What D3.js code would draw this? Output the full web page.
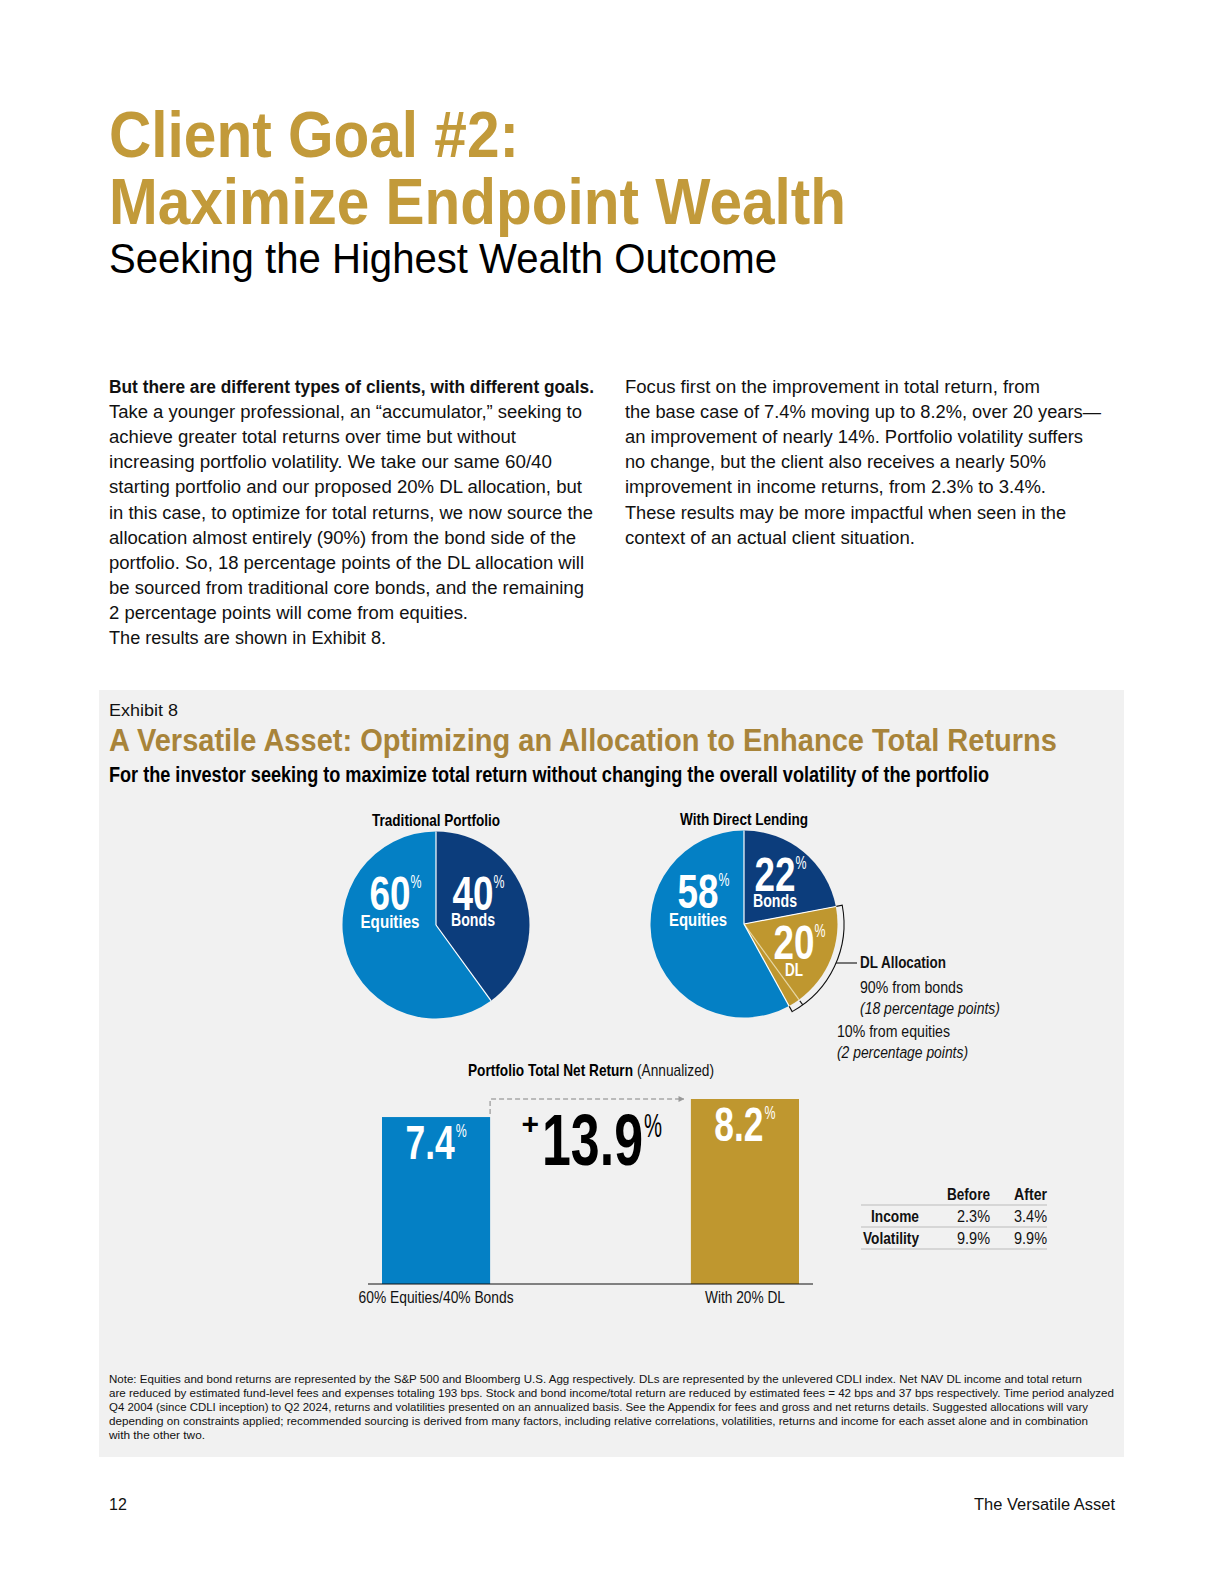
<!DOCTYPE html>
<html>
<head>
<meta charset="utf-8">
<script src="https://cdn.jsdelivr.net/npm/d3@7"></script>
<style>
  body { margin: 0; background: #fff; }
</style>
</head>
<body>
<div id="page"></div>
<script>
// ---- data ----
var tradNames = ["Bonds", "Equities"];
var tradValues = [40, 60];

// DL slice is split into the part sourced from bonds (18) and from equities (2)
var dlNames = ["Bonds", "DL from bonds", "DL from equities", "Equities"];
var dlValues = [22, 18, 2, 58];

var barCategories = ["60% Equities/40% Bonds", "With 20% DL"];
var barValues = [7.4, 8.2];
var improvement = 13.9;

var tableCols = ["Before", "After"];
var tableRows = ["Income", "Volatility"];
var incomeValues = [2.3, 3.4];
var volatilityValues = [9.9, 9.9];

// ---- styles ----
var NAVY = "#0c3d7c", BLUE = "#0480c5", GOLD = "#bf972f";
var TITLE_GOLD = "#c29a3a", EXHIBIT_GOLD = "#a8843a";
var NARROW = "'Liberation Sans Narrow','Arial Narrow','Liberation Sans',Arial,sans-serif";
var BODY = "'Liberation Sans',Arial,sans-serif";

var svg = d3.select("#page").append("svg")
    .attr("width", 1224)
    .attr("height", 1584);

function addText(g, str, x, y, o) {
    o = o || {};
    var t = g.append("text")
        .attr("x", x)
        .attr("y", y)
        .attr("font-family", o.family || NARROW)
        .attr("font-size", o.size || 16)
        .attr("font-weight", o.weight || "normal")
        .attr("font-style", o.style || "normal")
        .attr("text-anchor", o.anchor || "start")
        .attr("fill", o.fill || "#111")
        .text(str);
    if (o.width) {
        t.attr("textLength", o.width).attr("lengthAdjust", "spacingAndGlyphs");
    }
    return t;
}

// rough width of a condensed number, so labels can be grouped with their % sign
function numWidth(s, digit) {
    var w = 0;
    s.split("").forEach(function(c) { w += (c === ".") ? digit * 0.4 : digit; });
    return w;
}

// ---- page header ----
addText(svg, "Client Goal #2:", 109, 157, {size: 64, weight: "bold", fill: TITLE_GOLD, width: 410});
addText(svg, "Maximize Endpoint Wealth", 109, 224, {size: 64, weight: "bold", fill: TITLE_GOLD, width: 737});
addText(svg, "Seeking the Highest Wealth Outcome", 109, 273, {size: 42, fill: "#000", width: 668});

// ---- body copy ----
var leftLines = [
    ["But there are different types of clients, with different goals.", 485, true],
    ["Take a younger professional, an \u201caccumulator,\u201d seeking to", 473],
    ["achieve greater total returns over time but without", 407],
    ["increasing portfolio volatility. We take our same 60/40", 443],
    ["starting portfolio and our proposed 20% DL allocation, but", 473],
    ["in this case, to optimize for total returns, we now source the", 484],
    ["allocation almost entirely (90%) from the bond side of the", 467],
    ["portfolio. So, 18 percentage points of the DL allocation will", 475],
    ["be sourced from traditional core bonds, and the remaining", 475],
    ["2 percentage points will come from equities.", 359],
    ["The results are shown in Exhibit 8.", 277]
];
var rightLines = [
    ["Focus first on the improvement in total return, from", 415],
    ["the base case of 7.4% moving up to 8.2%, over 20 years\u2014", 476],
    ["an improvement of nearly 14%. Portfolio volatility suffers", 458],
    ["no change, but the client also receives a nearly 50%", 421],
    ["improvement in income returns, from 2.3% to 3.4%.", 421],
    ["These results may be more impactful when seen in the", 441],
    ["context of an actual client situation.", 290]
];
leftLines.forEach(function(l, i) {
    addText(svg, l[0], 109, 393 + i * 25.1, {family: BODY, size: 17.5, weight: l[2] ? "bold" : "normal", fill: "#111", width: l[1]});
});
rightLines.forEach(function(l, i) {
    addText(svg, l[0], 625, 393 + i * 25.1, {family: BODY, size: 17.5, fill: "#111", width: l[1]});
});

// ---- exhibit panel ----
svg.append("rect")
    .attr("x", 99).attr("y", 690)
    .attr("width", 1025).attr("height", 767)
    .attr("fill", "#f1f1f1");

addText(svg, "Exhibit 8", 109, 716, {family: BODY, size: 16, width: 69});
addText(svg, "A Versatile Asset: Optimizing an Allocation to Enhance Total Returns", 109, 751,
    {size: 31, weight: "bold", fill: EXHIBIT_GOLD, width: 948});
addText(svg, "For the investor seeking to maximize total return without changing the overall volatility of the portfolio", 109, 782,
    {size: 22, weight: "bold", fill: "#000", width: 880});

// ---- pies ----
var R = 93.5;
var arc = d3.arc().innerRadius(0).outerRadius(R);
var pie = d3.pie().sort(null).value(function(d) { return d; });

function polar(cx, cy, r, a) {
    return [cx + r * Math.sin(a), cy - r * Math.cos(a)];
}

function pctLabel(g, x, y, num, name, dx, dy, nameDy, nameW) {
    var s = String(num);
    var w = numWidth(s, 20.5);
    addText(g, s, x + dx, y + dy, {size: 49, weight: "bold", fill: "#fff", anchor: "middle", width: w});
    addText(g, "%", x + dx + w / 2, y + dy - 22, {size: 18, fill: "#fff", width: 11});
    addText(g, name, x + dx, y + nameDy, {size: 19, weight: "bold", fill: "#fff", anchor: "middle", width: nameW});
}

function drawPie(cx, cy, values, colors, title, dividerColors) {
    var g = svg.append("g");
    var arcs = pie(values);
    g.selectAll("path")
        .data(arcs)
        .enter()
        .append("path")
        .attr("transform", "translate(" + cx + "," + cy + ")")
        .attr("d", arc)
        .attr("fill", function(d, i) { return colors[i]; });
    // slice dividers
    arcs.forEach(function(d, i) {
        var p = polar(cx, cy, R, d.startAngle);
        g.append("line")
            .attr("x1", cx).attr("y1", cy)
            .attr("x2", p[0]).attr("y2", p[1])
            .attr("stroke", dividerColors[i])
            .attr("stroke-width", 1.2);
    });
    addText(g, title, cx, cy - 99, {size: 17, weight: "bold", fill: "#000", anchor: "middle", width: 128});
    return {g: g, arcs: arcs};
}

// traditional portfolio
var p1 = {x: 436, y: 925};
var pie1 = drawPie(p1.x, p1.y, tradValues, [NAVY, BLUE], "Traditional Portfolio", ["#fff", "#fff"]);
pctLabel(pie1.g, p1.x, p1.y, tradValues[1], tradNames[1], -46, -15, 3, 59);
pctLabel(pie1.g, p1.x, p1.y, tradValues[0], tradNames[0], 37, -15, 1, 44);

// with direct lending
var p2 = {x: 744, y: 924};
var pie2 = drawPie(p2.x, p2.y, dlValues, [NAVY, GOLD, GOLD, BLUE], "With Direct Lending", ["#fff", "#fff", "#e6d6a2", "#fff"]);
pctLabel(pie2.g, p2.x, p2.y, dlValues[3], "Equities", -46, -16, 2, 58);
pctLabel(pie2.g, p2.x, p2.y, dlValues[0], "Bonds", 31, -33, -17, 44);
pctLabel(pie2.g, p2.x, p2.y, dlValues[1] + dlValues[2], "DL", 50, 35, 52, 18);

// bracket around the DL slice
var a0 = pie2.arcs[1].startAngle, aMid = pie2.arcs[2].startAngle, a1 = pie2.arcs[2].endAngle;
var RB = 100, RT = 94;
var b0 = polar(p2.x, p2.y, RT, a0), b1 = polar(p2.x, p2.y, RB, a0),
    b2 = polar(p2.x, p2.y, RB, a1), b3 = polar(p2.x, p2.y, RT, a1);
svg.append("path")
    .attr("d", "M" + b0 + "L" + b1 + "A" + RB + "," + RB + " 0 0 1 " + b2 + "L" + b3)
    .attr("fill", "none")
    .attr("stroke", "#111")
    .attr("stroke-width", 1.1);
var t0 = polar(p2.x, p2.y, RB, aMid), t1 = polar(p2.x, p2.y, RB - 5, aMid);
svg.append("line")
    .attr("x1", t0[0]).attr("y1", t0[1]).attr("x2", t1[0]).attr("y2", t1[1])
    .attr("stroke", "#111").attr("stroke-width", 1.1);

// leader to the DL annotation
var leadY = p2.y + 39;
var leadX = p2.x + Math.sqrt(RB * RB - 39 * 39);
svg.append("line")
    .attr("x1", leadX).attr("y1", leadY)
    .attr("x2", p2.x + 113).attr("y2", leadY)
    .attr("stroke", "#111").attr("stroke-width", 1.1);
var nx = p2.x + 116;
addText(svg, "DL Allocation", nx, p2.y + 44, {size: 17, weight: "bold", fill: "#111", width: 86});
addText(svg, "90% from bonds", nx, p2.y + 69, {size: 16, fill: "#111", width: 103});
addText(svg, "(18 percentage points)", nx, p2.y + 90, {size: 16, style: "italic", fill: "#111", width: 140});
addText(svg, "10% from equities", nx - 23, p2.y + 113, {size: 16, fill: "#111", width: 113});
addText(svg, "(2 percentage points)", nx - 23, p2.y + 134, {size: 16, style: "italic", fill: "#111", width: 131});

// ---- bar chart ----
var x = d3.scaleBand()
    .domain(barCategories)
    .range([382, 799])
    .paddingInner(0.65)
    .paddingOuter(0);
var y = d3.scaleLinear()
    .domain([0, 8.2])
    .range([1284, 1099]);

var barColors = [BLUE, GOLD];
var barGroup = svg.append("g");

addText(barGroup, "Portfolio Total Net Return", 468, 1076, {size: 17, weight: "bold", fill: "#000", width: 165});
addText(barGroup, "(Annualized)", 637, 1076, {size: 17, fill: "#111", width: 77});

barGroup.selectAll("rect")
    .data(barValues)
    .enter()
    .append("rect")
    .attr("x", function(d, i) { return x(barCategories[i]); })
    .attr("y", function(d) { return y(d); })
    .attr("width", x.bandwidth())
    .attr("height", function(d) { return y(0) - y(d); })
    .attr("fill", function(d, i) { return barColors[i]; });

// baseline
barGroup.append("line")
    .attr("x1", 368).attr("x2", 813)
    .attr("y1", y(0)).attr("y2", y(0))
    .attr("stroke", "#111").attr("stroke-width", 1);

// category labels
var xAxis = barGroup.append("g")
    .attr("transform", "translate(0," + y(0) + ")")
    .call(d3.axisBottom(x).tickSize(0).tickPadding(7.5));
xAxis.select(".domain").remove();
var catW = [155, 80];
xAxis.selectAll("text")
    .attr("font-family", NARROW)
    .attr("font-size", 16)
    .attr("fill", "#111")
    .each(function(d, i) {
        d3.select(this).attr("textLength", catW[i]).attr("lengthAdjust", "spacingAndGlyphs");
    });

// value labels
barValues.forEach(function(v, i) {
    var s = v.toFixed(1);
    var w = numWidth(s, 20.5);
    var cx = x(barCategories[i]) + x.bandwidth() / 2;
    var start = cx - (w + 12) / 2;
    var base = y(v) + 42;
    addText(barGroup, s, start, base, {size: 49, weight: "bold", fill: "#fff", width: w});
    addText(barGroup, "%", start + w + 1, base - 22, {size: 18, fill: "#fff", width: 11});
});

// dashed arrow between bars
svg.append("defs").append("marker")
    .attr("id", "arrow")
    .attr("viewBox", "0 0 10 10")
    .attr("refX", 9).attr("refY", 5)
    .attr("markerWidth", 6).attr("markerHeight", 6)
    .attr("markerUnits", "userSpaceOnUse")
    .attr("orient", "auto")
    .append("path")
    .attr("d", "M0,0L10,5L0,10Z")
    .attr("fill", "#999");

var leftEdge = x(barCategories[0]) + x.bandwidth();
var rightEdge = x(barCategories[1]);
barGroup.append("path")
    .attr("d", "M" + leftEdge + "," + (y(barValues[0]) - 3) + "V" + y(barValues[1]) + "H" + (rightEdge - 7))
    .attr("fill", "none")
    .attr("stroke", "#a8a8a8")
    .attr("stroke-width", 1.5)
    .attr("stroke-dasharray", "5,3")
    .attr("marker-end", "url(#arrow)");

// +13.9%
var midX = (leftEdge + rightEdge) / 2;
var impS = improvement.toFixed(1);
var impW = 101;
var impBase = 1165;
addText(barGroup, impS, midX + 2, impBase, {size: 72, weight: "bold", fill: "#000", anchor: "middle", width: impW});
addText(barGroup, "+", midX + 2 - impW / 2 - 3, impBase - 31, {family: BODY, size: 30, weight: "bold", fill: "#000", anchor: "end"});
addText(barGroup, "%", midX + 2 + impW / 2 + 1, impBase - 28, {family: NARROW, size: 33, fill: "#000", width: 18});

// ---- before / after table ----
var colX = [990, 1047];
var colW = [43, 33];
var tbl = svg.append("g");
tableCols.forEach(function(c, i) {
    addText(tbl, c, colX[i], 1200, {size: 17, weight: "bold", fill: "#111", anchor: "end", width: colW[i]});
});
var rowData = [incomeValues, volatilityValues];
var rowW = [48, 56];
[1205, 1227, 1249].forEach(function(ly) {
    tbl.append("line")
        .attr("x1", 861).attr("x2", 1047)
        .attr("y1", ly).attr("y2", ly)
        .attr("stroke", "#bbb").attr("stroke-width", 1);
});
tableRows.forEach(function(r, i) {
    var by = 1222 + i * 22;
    addText(tbl, r, 919, by, {size: 17, weight: "bold", fill: "#111", anchor: "end", width: rowW[i]});
    rowData[i].forEach(function(v, j) {
        addText(tbl, v.toFixed(1) + "%", colX[j], by, {size: 17, fill: "#111", anchor: "end", width: 33});
    });
});

// ---- note ----
var noteLines = [
    ["Note: Equities and bond returns are represented by the S&P 500 and Bloomberg U.S. Agg respectively. DLs are represented by the unlevered CDLI index. Net NAV DL income and total return", 973],
    ["are reduced by estimated fund-level fees and expenses totaling 193 bps. Stock and bond income/total return are reduced by estimated fees = 42 bps and 37 bps respectively. Time period analyzed", 1005],
    ["Q4 2004 (since CDLI inception) to Q2 2024, returns and volatilities presented on an annualized basis. See the Appendix for fees and gross and net returns details. Suggested allocations will vary", 979],
    ["depending on constraints applied; recommended sourcing is derived from many factors, including relative correlations, volatilities, returns and income for each asset alone and in combination", 979],
    ["with the other two.", 96]
];
noteLines.forEach(function(l, i) {
    addText(svg, l[0], 109, 1383 + i * 14.1, {size: 11.5, fill: "#111", width: l[1]});
});

// ---- footer ----
addText(svg, "12", 109, 1510, {size: 16, fill: "#111"});
addText(svg, "The Versatile Asset", 1115, 1510, {size: 16, fill: "#111", anchor: "end", width: 141});
</script>
</body>
</html>
